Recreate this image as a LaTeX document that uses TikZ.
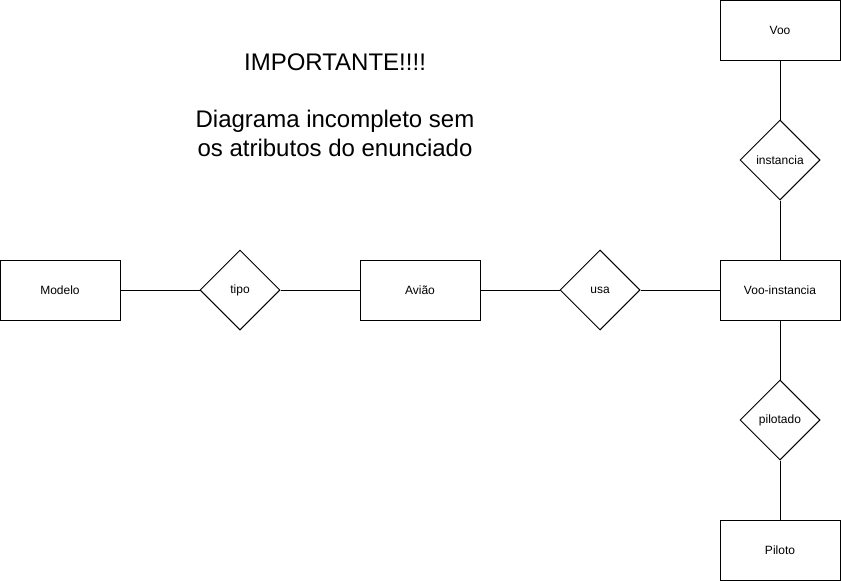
\documentclass[tikz,border=0pt]{standalone}
\usepackage{fontspec}
\setmainfont{Liberation Sans}
\usetikzlibrary{shapes.geometric}
\begin{document}
\begin{tikzpicture}[x=1pt,y=-1pt,
  ent/.style={draw,line width=1pt,minimum width=120pt,minimum height=60pt,inner sep=0pt,font=\fontsize{12}{14}\selectfont},
  rel/.style={draw,line width=1pt,diamond,minimum width=80pt,minimum height=80pt,inner sep=0pt,font=\fontsize{12}{14}\selectfont},
  conn/.style={line width=1pt},
  big/.style={inner sep=0pt,font=\fontsize{24}{28}\selectfont}]
\useasboundingbox (0,0) rectangle (841,581);
\node[ent] (modelo) at (60,290) {Modelo};
\node[rel] (tipo) at (240,290) {tipo};
\node[ent] (aviao) at (420,290) {Avião};
\node[rel] (usa) at (600,290) {usa};
\node[ent] (vooinst) at (780,290) {Voo-instancia};
\node[ent] (voo) at (780,30) {Voo};
\node[rel] (instancia) at (780,160) {instancia};
\node[rel] (pilotado) at (780,420) {pilotado};
\node[ent] (piloto) at (780,550) {Piloto};
\draw[conn] (modelo) -- (tipo);
\draw[conn] (tipo) -- (aviao);
\draw[conn] (aviao) -- (usa);
\draw[conn] (usa) -- (vooinst);
\draw[conn] (voo) -- (instancia);
\draw[conn] (instancia) -- (vooinst);
\draw[conn] (vooinst) -- (pilotado);
\draw[conn] (pilotado) -- (piloto);
\node[big] (title1) at (335,62) {IMPORTANTE!!!!};
\node[big] (title2) at (335,121) {Diagrama incompleto sem};
\node[big] (title3) at (335,148) {os atributos do enunciado};
\end{tikzpicture}
\end{document}
